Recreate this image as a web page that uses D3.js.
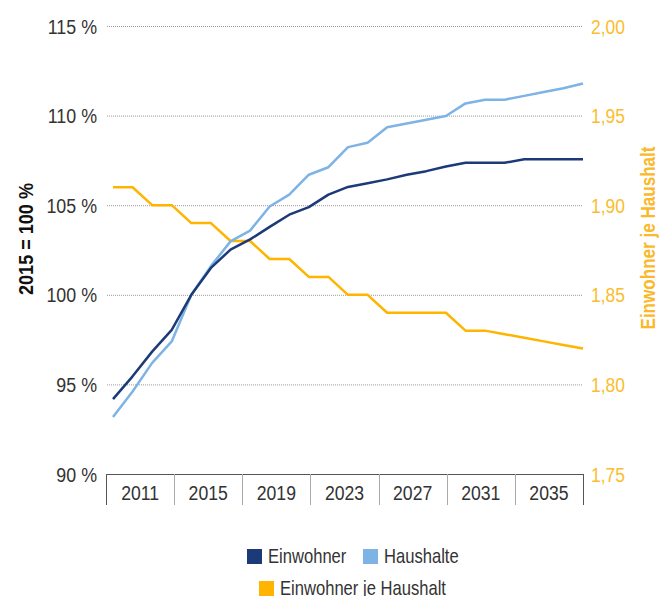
<!DOCTYPE html>
<html>
<head>
<meta charset="utf-8">
<script src="https://cdn.jsdelivr.net/npm/d3@7"></script>
<style>
	body { margin: 0; background: #fff; }
	text { font-family: "Liberation Sans Narrow", "Liberation Sans", Arial, sans-serif; }
</style>
</head>
<body>
<div id="visContainer"></div>
<script>
'use strict';

// data
var years = [2011, 2012, 2013, 2014, 2015, 2016, 2017, 2018, 2019, 2020, 2021, 2022, 2023,
	2024, 2025, 2026, 2027, 2028, 2029, 2030, 2031, 2032, 2033, 2034, 2035];
var einwohner = [94.18, 95.45, 96.83, 98.04, 100, 101.5, 102.52, 103.09, 103.79, 104.47, 104.89, 105.59, 106.02,
	106.23, 106.44, 106.7, 106.9, 107.16, 107.37, 107.37, 107.37, 107.56, 107.56, 107.56, 107.56];
var haushalte = [93.18, 94.6, 96.2, 97.4, 100, 101.6, 102.98, 103.58, 104.93, 105.59, 106.7, 107.12, 108.24,
	108.48, 109.35, 109.56, 109.77, 109.98, 110.68, 110.89, 110.89, 111.1, 111.32, 111.53, 111.79];
var einwohnerJeHaushalt = [1.91, 1.91, 1.90, 1.90, 1.89, 1.89, 1.88, 1.88, 1.87, 1.87, 1.86, 1.86, 1.85,
	1.85, 1.84, 1.84, 1.84, 1.84, 1.83, 1.83, 1.828, 1.826, 1.824, 1.822, 1.820];
var yearLabels = ['2011', '2015', '2019', '2023', '2027', '2031', '2035'];
var leftTicks = [90, 95, 100, 105, 110, 115];
var rightTicks = [1.75, 1.80, 1.85, 1.90, 1.95, 2.00];

var DARK = '#1c3a78';
var LIGHT = '#7eb3e6';
var ORANGE = '#ffb400';

var svg = d3.select('#visContainer')
	.append('svg')
	.attr('width', 661)
	.attr('height', 596);

// squeeze text horizontally, the original uses a condensed face
function narrow(sel, s) {
	sel.each(function () {
		var t = d3.select(this);
		var x = +t.attr('x') || 0;
		var y = +t.attr('y') || 0;
		t.attr('transform', 'translate(' + x + ',' + y + ') scale(' + s + ',1)')
			.attr('x', 0)
			.attr('y', 0);
	});
}

// scales
var xScale = d3.scaleLinear().domain([2011, 2035]).range([113, 583]);
var yLeft = d3.scaleLinear().domain([90, 115]).range([474, 26]);
var yRight = d3.scaleLinear().domain([1.75, 2.00]).range([474, 26]);
var boxScale = d3.scaleBand().domain(yearLabels).range([106, 583]);

// dotted gridlines
svg.append('g').selectAll('line')
	.data(leftTicks.filter(function (d) { return d > 90; }))
	.enter().append('line')
	.attr('x1', 107)
	.attr('x2', 583)
	.attr('y1', function (d) { return yLeft(d) + 0.5; })
	.attr('y2', function (d) { return yLeft(d) + 0.5; })
	.attr('stroke', '#999')
	.attr('stroke-width', 1)
	.attr('stroke-dasharray', '1,1');

// left tick labels
var pct = function (d) { return d + ' %'; };
svg.append('g').selectAll('text')
	.data(leftTicks)
	.enter().append('text')
	.attr('x', 97)
	.attr('y', function (d) { return yLeft(d); })
	.attr('dy', '0.36em')
	.attr('text-anchor', 'end')
	.style('font-size', '21px')
	.style('fill', '#333')
	.text(pct)
	.call(narrow, 0.85);

// right tick labels
var comma = function (d) { return d3.format('.2f')(d).replace('.', ','); };
svg.append('g').selectAll('text')
	.data(rightTicks)
	.enter().append('text')
	.attr('x', 591)
	.attr('y', function (d) { return yRight(d); })
	.attr('dy', '0.36em')
	.style('font-size', '21px')
	.style('fill', '#fbbd2e')
	.text(comma)
	.call(narrow, 0.83);

// boxed category axis
var axisG = svg.append('g');
axisG.append('line')
	.attr('x1', 106).attr('x2', 583.5)
	.attr('y1', 474.5).attr('y2', 474.5)
	.attr('stroke', '#555');
axisG.selectAll('.sep')
	.data(yearLabels.concat(['end']))
	.enter().append('line')
	.attr('class', 'sep')
	.attr('x1', function (d, i) { return Math.round(106 + i * boxScale.bandwidth()) + 0.5; })
	.attr('x2', function (d, i) { return Math.round(106 + i * boxScale.bandwidth()) + 0.5; })
	.attr('y1', 474)
	.attr('y2', 505)
	.attr('stroke', function (d, i) { return (i === 0 || i === yearLabels.length) ? '#555' : '#aaa'; });
axisG.selectAll('.yl')
	.data(yearLabels)
	.enter().append('text')
	.attr('class', 'yl')
	.attr('x', function (d) { return boxScale(d) + boxScale.bandwidth() / 2; })
	.attr('y', 500)
	.attr('text-anchor', 'middle')
	.style('font-size', '21px')
	.style('fill', '#333')
	.text(function (d) { return d; })
	.call(narrow, 0.84);

// lines
function drawLine(values, yScale, color) {
	var line = d3.line()
		.x(function (d, i) { return xScale(years[i]); })
		.y(function (d) { return yScale(d); });
	svg.append('path')
		.datum(values)
		.attr('d', line)
		.attr('fill', 'none')
		.attr('stroke', color)
		.attr('stroke-width', 2.5)
		.attr('stroke-linejoin', 'round');
}
drawLine(einwohnerJeHaushalt, yRight, ORANGE);
drawLine(haushalte, yLeft, LIGHT);
drawLine(einwohner, yLeft, DARK);

// axis titles
svg.append('text')
	.text('2015 = 100 %')
	.attr('transform', 'translate(33,239) rotate(-90)')
	.attr('text-anchor', 'middle')
	.attr('textLength', 112)
	.attr('lengthAdjust', 'spacingAndGlyphs')
	.style('font-size', '21px')
	.style('font-weight', 'bold')
	.style('fill', '#111');
svg.append('text')
	.text('Einwohner je Haushalt')
	.attr('transform', 'translate(655,238) rotate(-90)')
	.attr('text-anchor', 'middle')
	.attr('textLength', 183)
	.attr('lengthAdjust', 'spacingAndGlyphs')
	.style('font-size', '21px')
	.style('font-weight', 'bold')
	.style('fill', '#fbb829');

// legend
var legendItems = [
	{ name: 'Einwohner', color: DARK, x: 247, y: 549 },
	{ name: 'Haushalte', color: LIGHT, x: 363, y: 549 },
	{ name: 'Einwohner je Haushalt', color: ORANGE, x: 259, y: 581 }
];
var legend = svg.append('g').selectAll('g')
	.data(legendItems)
	.enter().append('g')
	.attr('transform', function (d) { return 'translate(' + d.x + ',' + d.y + ')'; });
legend.append('rect')
	.attr('width', 15)
	.attr('height', 15)
	.attr('fill', function (d) { return d.color; });
legend.append('text')
	.attr('x', 21)
	.attr('y', 14)
	.style('font-size', '20px')
	.style('fill', '#333')
	.text(function (d) { return d.name; })
	.call(narrow, 0.83);
</script>
</body>
</html>
